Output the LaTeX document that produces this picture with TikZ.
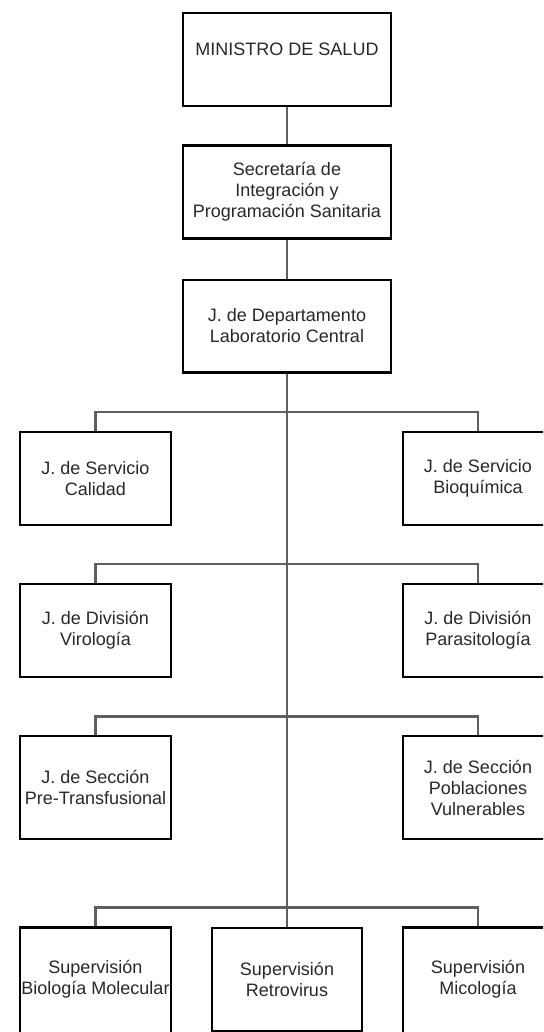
\documentclass[tikz,border=0pt]{standalone}
\usepackage{fontspec}
\setmainfont{Liberation Sans}
\usepackage{xcolor}
\usepackage{tikz}
\usetikzlibrary{positioning}

\definecolor{linkgray}{RGB}{95,95,95}
\definecolor{textgray}{RGB}{40,40,40}

\tikzset{
  unit/.style={rectangle, draw=black, line width=2.4pt, text=textgray,
    minimum width=150.5pt, minimum height=92.6pt, inner sep=0pt,
    align=center, font=\fontsize{18}{21}\selectfont},
  head unit/.style={unit, minimum width=207.6pt},
  tall unit/.style={unit, minimum height=103pt},
  cut unit/.style={unit, minimum height=112pt, text depth=12pt},
  link/.style={draw=linkgray, line width=2.6pt},
}

\begin{document}
\begin{tikzpicture}[x=1pt,y=1pt]
  \useasboundingbox (0,0) rectangle (543,-1032);
  \clip (0,0) rectangle (543,-1032);

  % Head of the chart
  \node[head unit] (ministro) at (287,-59.5) {MINISTRO DE SALUD\\~};
  \node[head unit] (secretaria) at (287,-192) {Secretaría de\\Integración y\\Programación Sanitaria};
  \node[head unit] (depto) at (287,-326) {J. de Departamento\\Laboratorio Central};

  % Servicios
  \node[unit] (calidad) at (95.5,-478.5) {J. de Servicio\\Calidad};
  \node[unit] (bioquimica) at (478,-478.5) {J. de Servicio\\Bioquímica};

  % Divisiones
  \node[unit] (virologia) at (95.5,-630.5) {J. de División\\Virología};
  \node[unit] (parasito) at (478,-630.5) {J. de División\\Parasitología};

  % Secciones
  \node[tall unit] (pretransf) at (95.5,-787.5) {J. de Sección\\Pre-Transfusional};
  \node[tall unit] (poblaciones) at (478,-787.5) {J. de Sección\\Poblaciones\\Vulnerables};

  % Supervisiones (cut by the bottom edge)
  \node[cut unit] (biomol) at (95.5,-983.5) {Supervisión\\Biología Molecular};
  \node[tall unit] (retrovirus) at (287,-979.5) {Supervisión\\Retrovirus};
  \node[cut unit] (micologia) at (478,-983.5) {Supervisión\\Micología};

  % Connectors
  \draw[link] (ministro) -- (secretaria);
  \draw[link] (secretaria) -- (depto);
  \draw[link] (depto) -- (retrovirus);
  \draw[link] (calidad.north) -- ++(0,19) -| (bioquimica.north);
  \draw[link] (virologia.north) -- ++(0,19) -| (parasito.north);
  \draw[link] (pretransf.north) -- ++(0,18.5) -| (poblaciones.north);
  \draw[link] (biomol.north) -- ++(0,19) -| (micologia.north);
\end{tikzpicture}
\end{document}
